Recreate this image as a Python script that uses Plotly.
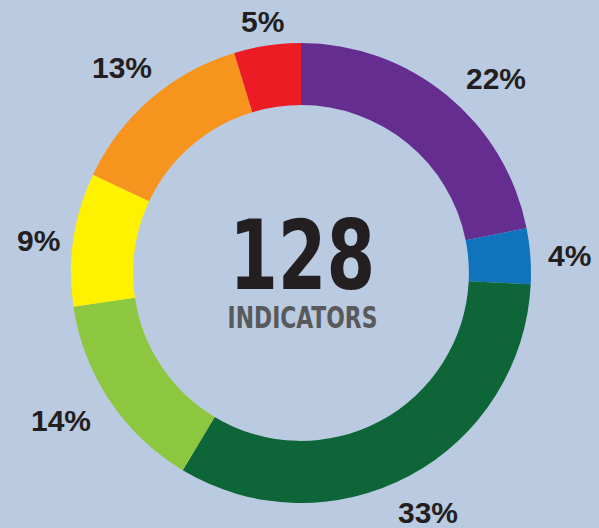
import math
import plotly.graph_objects as go

categories = ["Group 1", "Group 2", "Group 3", "Group 4", "Group 5", "Group 6", "Group 7"]
counts = [28, 5, 42, 18, 12, 17, 6]
pct_labels = ["22%", "4%", "33%", "14%", "9%", "13%", "5%"]
colors = ["#652d90", "#1074bc", "#0e6638", "#8dc63f", "#fff200", "#f7941d", "#ed1c24"]
total_label = "128"
sub_label = "INDICATORS"

W, H = 599, 528
cx, cy, R = 301, 273, 230   # pie centre / radius in pixels
label_gap = 245             # radius where label boxes start
LBL_SIZE = 30
# small hand nudges (pixels, +x right, +y down) for label placement
label_nudge = [(21, 17), (0, 2), (0, 1), (-9, -7), (4, 7), (0, 2), (0, 5)]

fig = go.Figure(go.Pie(
    labels=categories,
    values=counts,
    marker=dict(colors=colors, line=dict(width=0)),
    hole=0.73,
    sort=False,
    direction="clockwise",
    rotation=0,
    textinfo="none",
    hoverinfo="label+value+percent",
    showlegend=False,
    domain=dict(x=[(cx - R) / W, (cx + R) / W],
                y=[(H - cy - R) / H, (H - cy + R) / H]),
))


def text_width(s, size):
    return sum((0.889 if ch == "%" else 0.556) for ch in s) * size * 1.08


annotations = []
tot = sum(counts)
cum = 0
for v, t, (nx, ny) in zip(counts, pct_labels, label_nudge):
    mid = (cum + v / 2) / tot * 2 * math.pi
    cum += v
    s, c = math.sin(mid), math.cos(mid)
    w, h = text_width(t, LBL_SIZE), 22
    r = label_gap + w / 2 * abs(s) + h / 2 * abs(c)
    px = cx + r * s + nx
    py = cy - r * c + ny
    annotations.append(dict(
        x=px / W, y=(H - py) / H, xref="paper", yref="paper",
        text="<b>" + t + "</b>", showarrow=False, xanchor="center", yanchor="middle",
        font=dict(family="Liberation Sans, Arial, sans-serif", size=LBL_SIZE, color="#231f20"),
    ))

condensed = "Liberation Sans Narrow, DejaVu Sans Condensed, sans-serif"
annotations.append(dict(
    x=(cx + 1) / W, y=(H - 256) / H, xref="paper", yref="paper",
    text="<b>" + total_label + "</b>", showarrow=False,
    xanchor="center", yanchor="middle",
    font=dict(family=condensed, size=96, color="#231f20"),
))
annotations.append(dict(
    x=(cx + 1) / W, y=(H - 317) / H, xref="paper", yref="paper",
    text="<b>" + sub_label + "</b>", showarrow=False,
    xanchor="center", yanchor="middle",
    font=dict(family=condensed, size=30, color="#58595b"),
))

fig.update_layout(
    width=W, height=H,
    margin=dict(l=0, r=0, t=0, b=0),
    paper_bgcolor="#b9cae1",
    plot_bgcolor="#b9cae1",
    annotations=annotations,
)

post = """
document.body.style.margin='0';
document.body.style.background='#b9cae1';
function squeeze(){
  document.querySelectorAll('.annotation-text').forEach(function(el){
    var t = el.textContent;
    if (t === '%s' || t === '%s') {
      el.style.transformBox = 'fill-box';
      el.style.transformOrigin = 'center';
      el.style.transform = 'scaleX(0.81)';
    }
  });
}
squeeze();
setTimeout(squeeze, 0);
""" % (total_label, sub_label)

fig.write_html("out.html", config={"displayModeBar": False}, post_script=post)
